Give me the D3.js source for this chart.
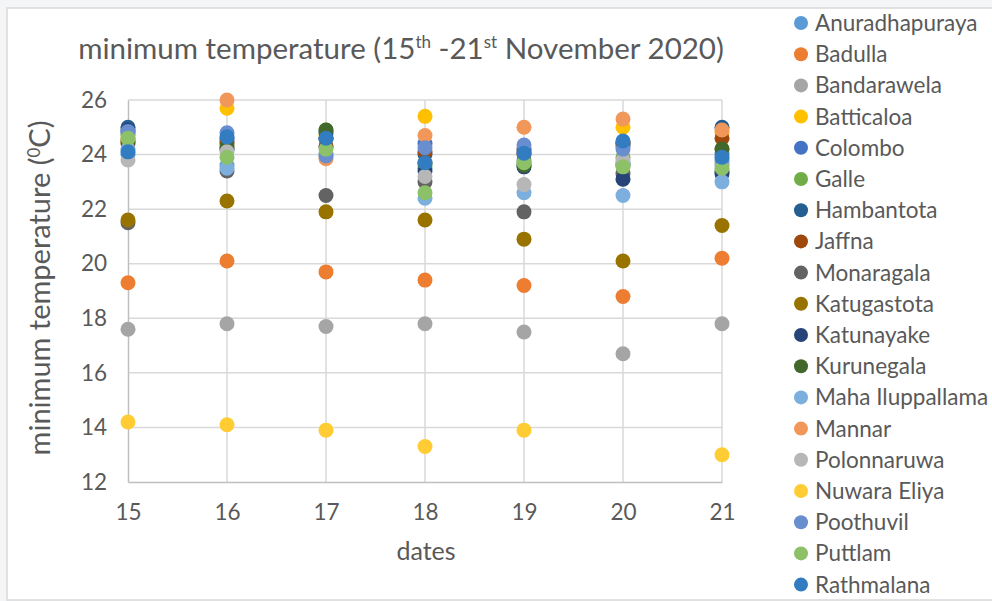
<!DOCTYPE html>
<html><head><meta charset="utf-8">
<script src="https://cdn.jsdelivr.net/npm/d3@7"></script>
<style>
html,body{margin:0;padding:0;background:#f4f5f7;}
svg{display:block;}
text{font-family:Lato,"Open Sans",sans-serif;fill:#595959;}
</style></head>
<body>
<svg id="c" width="992" height="601"></svg>
<script>
const dates = [15, 16, 17, 18, 19, 20, 21];
const yTicks = [12, 14, 16, 18, 20, 22, 24, 26];
const stations = ["Anuradhapuraya","Badulla","Bandarawela","Batticaloa","Colombo","Galle","Hambantota","Jaffna","Monaragala","Katugastota","Katunayake","Kurunegala","Maha Iluppallama","Mannar","Polonnaruwa","Nuwara Eliya","Poothuvil","Puttlam","Rathmalana"];
const colors = ["#5B9BD5","#ED7D31","#A5A5A5","#FFC000","#4472C4","#70AD47","#255E91","#9E480E","#636363","#997300","#264478","#43682B","#7CAFDD","#F1975A","#B7B7B7","#FFCD33","#698ED0","#8CC168","#327DC2"];
const anuradhapuraya = [24.0, 23.6, 24.3, 23.5, 23.8, 23.7, 23.6];
const badulla        = [19.3, 20.1, 19.7, 19.4, 19.2, 18.8, 20.2];
const bandarawela    = [17.6, 17.8, 17.7, 17.8, 17.5, 16.7, 17.8];
const batticaloa     = [24.5, 25.7, 24.7, 25.4, 24.2, 25.0, 24.8];
const colombo        = [24.8, 24.5, 24.6, 24.4, 24.2, 24.3, 24.0];
const galle          = [24.7, 24.2, 24.9, 23.6, 23.7, 23.9, 24.2];
const hambantota     = [25.0, 24.6, 24.8, 24.0, 24.1, 24.4, 25.0];
const jaffna         = [24.4, 24.4, 24.3, 24.1, 24.0, 24.4, 24.6];
const monaragala     = [21.5, 23.4, 22.5, 23.0, 21.9, 23.3, 23.4];
const katugastota    = [21.6, 22.3, 21.9, 21.6, 20.9, 20.1, 21.4];
const katunayake     = [24.9, 24.2, 24.6, 23.4, 23.55, 23.1, 23.3];
const kurunegala     = [24.5, 24.3, 24.9, 23.7, 23.6, 23.6, 24.2];
const mahaIluppallama= [24.2, 23.5, 24.0, 22.4, 22.6, 22.5, 23.0];
const mannar         = [24.6, 26.0, 23.85, 24.7, 25.0, 25.3, 24.9];
const polonnaruwa    = [23.8, 24.1, 24.0, 23.2, 22.9, 23.8, 23.7];
const nuwaraEliya    = [14.2, 14.1, 13.9, 13.3, 13.9, null, 13.0];
const poothuvil      = [24.85, 24.8, 23.95, 24.25, 24.35, 24.2, 23.8];
const puttlam        = [24.6, 23.9, 24.2, 22.6, 23.7, 23.55, 23.5];
const rathmalana     = [24.1, 24.65, 24.6, 23.7, 24.05, 24.5, 23.9];
const seriesValues = [anuradhapuraya,badulla,bandarawela,batticaloa,colombo,galle,hambantota,jaffna,monaragala,katugastota,katunayake,kurunegala,mahaIluppallama,mannar,polonnaruwa,nuwaraEliya,poothuvil,puttlam,rathmalana];

const svg = d3.select("#c");
svg.append("rect").attr("x",7).attr("y",8).attr("width",1000).attr("height",592)
  .attr("fill","#fff").attr("stroke","#d9d9d9").attr("stroke-width",1.5);

const x = d3.scaleLinear().domain([15,21]).range([128,722]);
const y = d3.scaleLinear().domain([12,26]).range([482,100]);

const g = svg.append("g");
g.selectAll(".hg").data(yTicks.slice(1)).join("line")
  .attr("x1",x(15)).attr("x2",x(21)).attr("y1",d=>y(d)).attr("y2",d=>y(d))
  .attr("stroke","#d9d9d9").attr("stroke-width",1.5);
g.selectAll(".vg").data(dates.slice(1)).join("line")
  .attr("x1",d=>x(d)).attr("x2",d=>x(d)).attr("y1",y(12)).attr("y2",y(26))
  .attr("stroke","#d9d9d9").attr("stroke-width",1.5);

const ax = svg.append("g").attr("transform",`translate(0,${y(12)})`)
  .call(d3.axisBottom(x).tickValues(dates).tickSize(0).tickPadding(22).tickFormat(d3.format("d")));
ax.select(".domain").attr("stroke","#bfbfbf").attr("stroke-width",1.5);
ax.selectAll("text").attr("font-size",22.5).attr("fill","#595959").style("font-family","Lato");
const ay = svg.append("g").attr("transform",`translate(${x(15)},0)`)
  .call(d3.axisLeft(y).tickValues(yTicks).tickSize(0).tickPadding(21).tickFormat(d3.format("d")));
ay.select(".domain").attr("stroke","#bfbfbf").attr("stroke-width",1.5);
ay.selectAll("text").attr("font-size",22.5).attr("fill","#595959").style("font-family","Lato");

seriesValues.forEach((vals,i)=>{
  svg.append("g").selectAll("circle")
    .data(dates.map((d,j)=>({d, v:vals[j]})).filter(p=>p.v!==null))
    .join("circle")
    .attr("cx",p=>x(p.d)).attr("cy",p=>y(p.v)).attr("r",7.5)
    .attr("fill",colors[i]);
});

const t = svg.append("text").attr("x",401).attr("y",59).attr("text-anchor","middle").attr("font-size",29.5);
t.append("tspan").text("minimum temperature (15");
t.append("tspan").attr("font-size",17).attr("dy",-11).text("th");
t.append("tspan").attr("dy",11).text(" -21");
t.append("tspan").attr("font-size",17).attr("dy",-11).text("st");
t.append("tspan").attr("dy",11).text(" November 2020)");

svg.append("text").attr("x",426).attr("y",560).attr("text-anchor","middle").attr("font-size",25).text("dates");
const yl = svg.append("text").attr("transform","translate(50,288) rotate(-90)").attr("text-anchor","middle").attr("font-size",29);
yl.append("tspan").text("minimum temperature (");
yl.append("tspan").attr("font-size",17).attr("dy",-10).text("0");
yl.append("tspan").attr("dy",10).text("C)");

const lg = svg.append("g");
stations.forEach((s,i)=>{
  const cy = 23 + i*31.2;
  lg.append("circle").attr("cx",801).attr("cy",cy).attr("r",7).attr("fill",colors[i]);
  lg.append("text").attr("x",815).attr("y",cy+8).attr("font-size",22.5).text(s);
});
</script>
</body></html>
